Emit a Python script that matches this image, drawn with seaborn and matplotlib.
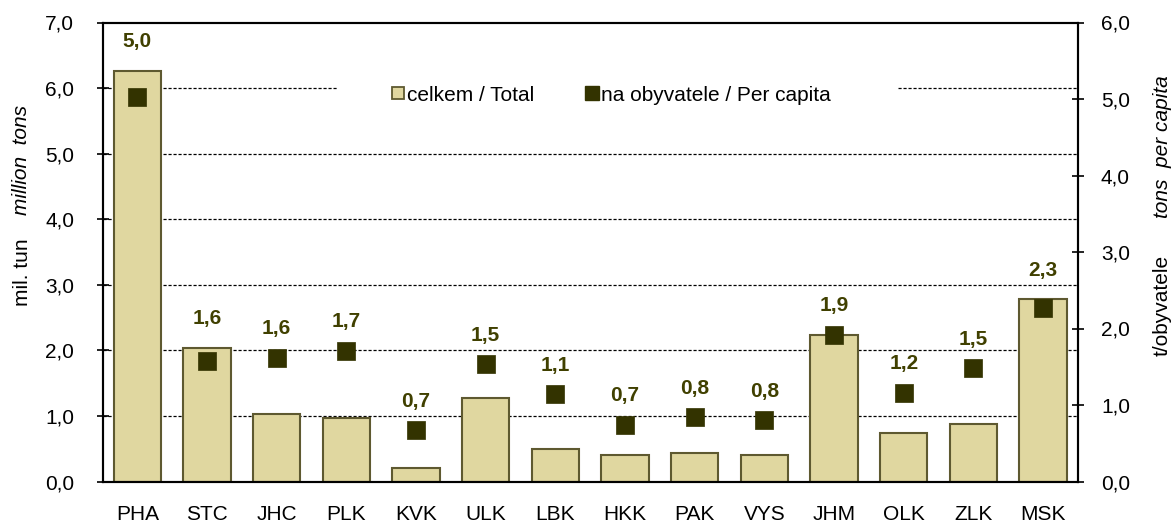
import numpy as np
import pandas as pd
import matplotlib
matplotlib.use("Agg")
import matplotlib.pyplot as plt
from matplotlib.lines import Line2D
from matplotlib.patches import Rectangle
from matplotlib.ticker import FuncFormatter, FixedLocator
import seaborn as sns

# data
regions = ["PHA", "STC", "JHC", "PLK", "KVK", "ULK", "LBK", "HKK", "PAK", "VYS",
           "JHM", "OLK", "ZLK", "MSK"]
total_mil_t = [6.26, 2.04, 1.03, 0.97, 0.20, 1.27, 0.50, 0.40, 0.44, 0.41,
               2.24, 0.74, 0.87, 2.78]
per_capita_t = [5.03, 1.57, 1.62, 1.71, 0.67, 1.53, 1.14, 0.74, 0.84, 0.80,
                1.92, 1.16, 1.48, 2.27]
per_capita_labels = ["5,0", "1,6", "1,6", "1,7", "0,7", "1,5", "1,1", "0,7", "0,8", "0,8",
                     "1,9", "1,2", "1,5", "2,3"]

df = pd.DataFrame({"region": regions, "total": total_mil_t, "pc": per_capita_t})
df["pos"] = np.arange(len(df))

bar_color = "#E0D7A0"
edge_color = "#5E5930"
mark_color = "#333300"
label_color = "#404000"
fs = 15

sns.set_style("white")
plt.rcParams["font.family"] = ["Liberation Sans", "DejaVu Sans"]
plt.rcParams["font.size"] = fs
plt.rcParams["text.color"] = "black"
plt.rcParams["xtick.color"] = "black"
plt.rcParams["ytick.color"] = "black"

comma = FuncFormatter(lambda v, p: f"{v:.1f}".replace(".", ","))

fig = plt.figure(figsize=(11.75, 5.25), dpi=100)
ax = fig.add_axes([102.5 / 1175, 43.5 / 525, 975.5 / 1175, 459 / 525])

sns.barplot(data=df, x="pos", y="total", color=bar_color, edgecolor=edge_color,
            linewidth=1.5, width=0.68, saturation=1, ax=ax, zorder=2)
ax.set_xlim(-0.5, len(df) - 0.5)
ax.set_ylim(0, 7)
ax.set_xlabel("")
ax.set_ylabel("")
ax.set_xticks(df["pos"])
ax.set_xticklabels(df["region"], fontsize=fs)
ax.xaxis.set_minor_locator(FixedLocator(np.arange(-0.5, len(df), 1.0)))
ax.tick_params(axis="x", which="major", length=0, pad=17)
ax.tick_params(axis="x", which="minor", direction="inout", length=9, width=1.2)
ax.set_yticks(np.arange(0, 7.1, 1))
ax.yaxis.set_major_formatter(comma)
ax.tick_params(axis="y", direction="inout", length=9, width=1.2, labelsize=fs, pad=16)

for v in range(1, 7):
    ax.axhline(v, color="black", linestyle=(0, (2.5, 1.5)), linewidth=0.9, zorder=1)

for s in ax.spines.values():
    s.set_linewidth(1.5)
    s.set_color("black")

ax2 = ax.twinx()
sns.scatterplot(data=df, x="pos", y="pc", marker="s", s=150, color=mark_color,
                edgecolor=mark_color, linewidth=0.5, ax=ax2, zorder=5, legend=False)
ax2.set_ylim(0, 6)
ax2.set_xlim(-0.5, len(df) - 0.5)
ax2.set_ylabel("")
ax2.set_xlabel("")
ax2.set_yticks(np.arange(0, 6.1, 1))
ax2.yaxis.set_major_formatter(comma)
ax2.tick_params(axis="y", direction="inout", length=9, width=1.2, labelsize=fs, pad=12)
for s in ax2.spines.values():
    s.set_linewidth(1.5)
    s.set_color("black")

# value labels above the marker (or above the bar top when it is higher)
for i, row in df.iterrows():
    anchor = max(row["pc"], row["total"] * 6 / 7)
    ax2.annotate(per_capita_labels[i], (row["pos"], anchor), xytext=(0, 21),
                 textcoords="offset points", ha="center", va="center",
                 fontsize=fs, fontweight="bold", color=label_color, zorder=6)

# white box behind the legend that cuts the 6,0 gridline
ax2.add_patch(Rectangle((0.24, 0.80), 0.575, 0.095, transform=ax2.transAxes,
                        facecolor="white", edgecolor="none", zorder=3))
handles = [
    Line2D([], [], linestyle="none", marker="s", markersize=9,
           markerfacecolor=bar_color, markeredgecolor=edge_color, markeredgewidth=1.3),
    Line2D([], [], linestyle="none", marker="s", markersize=10,
           markerfacecolor=mark_color, markeredgecolor=mark_color),
]
leg = ax2.legend(handles, ["celkem / Total", "na obyvatele / Per capita"], ncol=2,
                 loc="center", bbox_to_anchor=(0.521, 0.842), frameon=False,
                 fontsize=fs, handletextpad=0.1, columnspacing=2.4, handlelength=0.7)
leg.set_zorder(7)

# axis titles
fig.text(22 / 1175, 1 - 272 / 525, "mil. tun", rotation=90, ha="center", va="center",
         fontsize=fs)
fig.text(22 / 1175, 1 - 160 / 525, "million  tons", rotation=90, ha="center",
         va="center", fontsize=fs, style="italic")
fig.text(1162 / 1175, 1 - 305 / 525, "t/obyvatele", rotation=90, ha="center",
         va="center", fontsize=fs)
fig.text(1162 / 1175, 1 - 147 / 525, "tons  per capita", rotation=90, ha="center",
         va="center", fontsize=fs, style="italic")

fig.savefig("out.png", dpi=100)
